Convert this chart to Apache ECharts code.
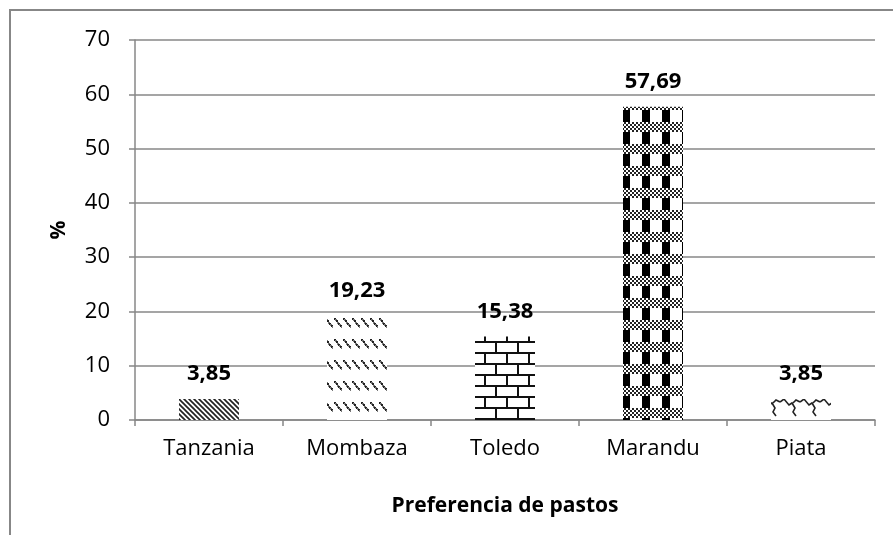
<!DOCTYPE html>
<html>
<head>
<meta charset="utf-8">
<script src="https://cdn.jsdelivr.net/npm/echarts@6/dist/echarts.min.js"></script>
<style>
html,body{margin:0;padding:0;background:#fff;}
#c{width:893px;height:535px;}
</style>
</head>
<body>
<div id="c"></div>
<script>
const categories = ['Tanzania', 'Mombaza', 'Toledo', 'Marandu', 'Piata'];
const values = [3.85, 19.23, 15.38, 57.69, 3.85];
const yTicks = [0, 10, 20, 30, 40, 50, 60, 70];
const xAxisTitle = 'Preferencia de pastos';
const yAxisTitle = '%';

function mk(w, h, draw) {
  const c = document.createElement('canvas');
  c.width = w; c.height = h;
  const ctx = c.getContext('2d');
  ctx.fillStyle = '#fff';
  ctx.fillRect(0, 0, w, h);
  draw(ctx, w, h);
  return c;
}

// Tanzania: dense diagonal hatch
const pTanzania = mk(5, 5, (ctx, w, h) => {
  ctx.strokeStyle = '#222';
  ctx.lineWidth = 1.7;
  for (let k = -1; k <= 1; k++) {
    ctx.beginPath();
    ctx.moveTo(k * w - 1, -1);
    ctx.lineTo(k * w + w + 1, h + 1);
    ctx.stroke();
  }
});

// Mombaza: rows of dotted diagonal strokes
const pMombaza = mk(9, 21, (ctx) => {
  for (let i = 0; i < 8; i++) {
    const x = 0.5 + i * 1.0, y = 3 + i * 1.2;
    ctx.fillStyle = (i % 2 === 0) ? '#222' : '#777';
    ctx.fillRect(Math.round(x), Math.round(y), 2, 2);
  }
});

// Toledo: bricks
const pToledo = mk(22, 22, (ctx) => {
  ctx.fillStyle = '#111';
  ctx.fillRect(0, 0, 22, 2);
  ctx.fillRect(0, 11, 22, 2);
  ctx.fillRect(0, 0, 2, 11);
  ctx.fillRect(11, 11, 2, 11);
});

// Marandu: black columns with checkered bands
const pMarandu = mk(20, 22, (ctx) => {
  ctx.fillStyle = '#000';
  ctx.fillRect(2, 0, 8, 12);
  for (let y = 12; y < 22; y += 2) {
    for (let x = 0; x < 20; x += 2) {
      ctx.fillStyle = (((x + y) / 2) % 2 === 0) ? '#222' : '#fff';
      ctx.fillRect(x, y, 2, 2);
    }
  }
});

// Piata: wavy strokes
const pPiata = mk(20, 22, (ctx) => {
  ctx.strokeStyle = '#222';
  ctx.lineWidth = 1.6;
  ctx.beginPath();
  ctx.moveTo(0, 6);
  ctx.lineTo(4, 3);
  ctx.lineTo(9, 9);
  ctx.lineTo(12, 7);
  ctx.lineTo(15, 12);
  ctx.lineTo(13, 16);
  ctx.lineTo(16, 20);
  ctx.stroke();
  ctx.beginPath();
  ctx.moveTo(20, 6);
  ctx.lineTo(16, 4);
  ctx.lineTo(13, 7);
  ctx.stroke();
});

const patterns = [pTanzania, pMombaza, pToledo, pMarandu, pPiata];

const fontFamily = '"Open Sans", sans-serif';
const chart = echarts.init(document.getElementById('c'), null, { renderer: 'canvas' });

chart.setOption({
  animation: false,
  backgroundColor: '#fff',
  graphic: [{
    type: 'rect',
    shape: { x: 10, y: 10, width: 900, height: 540 },
    style: { fill: 'none', stroke: '#878787', lineWidth: 2 },
    silent: true, z: -1
  }],
  grid: { left: 135, right: 18, top: 40, bottom: 115, containLabel: false },
  xAxis: {
    type: 'category',
    data: categories,
    name: xAxisTitle,
    nameLocation: 'middle',
    nameGap: 76,
    nameTextStyle: { fontFamily, fontSize: 21, fontWeight: 'bold', color: '#000', verticalAlign: 'top' },
    axisLine: { show: true, lineStyle: { color: '#878787', width: 1.5 } },
    axisTick: { show: true, alignWithLabel: false, length: 6, lineStyle: { color: '#878787', width: 1.5 } },
    axisLabel: { fontFamily, fontSize: 22, color: '#000', margin: 18 },
    splitLine: { show: false }
  },
  yAxis: {
    type: 'value',
    min: yTicks[0],
    max: yTicks[yTicks.length - 1],
    interval: 10,
    name: yAxisTitle,
    nameLocation: 'middle',
    nameRotate: 90,
    nameGap: 65,
    nameTextStyle: { fontFamily, fontSize: 21, fontWeight: 'bold', color: '#000' },
    axisLine: { show: true, lineStyle: { color: '#878787', width: 1.5 } },
    axisTick: { show: true, length: 6, lineStyle: { color: '#878787', width: 1.5 } },
    axisLabel: { fontFamily, fontSize: 22, color: '#000', margin: 25 },
    splitLine: { show: true, lineStyle: { color: '#878787', width: 1.5 } }
  },
  series: [{
    type: 'bar',
    barWidth: 60,
    data: values.map((v, i) => ({
      value: v,
      itemStyle: { color: { image: patterns[i], repeat: 'repeat' } }
    })),
    label: {
      show: true,
      position: 'top',
      distance: 14,
      fontFamily,
      fontSize: 22,
      fontWeight: 'bold',
      color: '#000',
      formatter: (p) => p.value.toFixed(2).replace('.', ',')
    }
  }]
});
</script>
</body>
</html>
